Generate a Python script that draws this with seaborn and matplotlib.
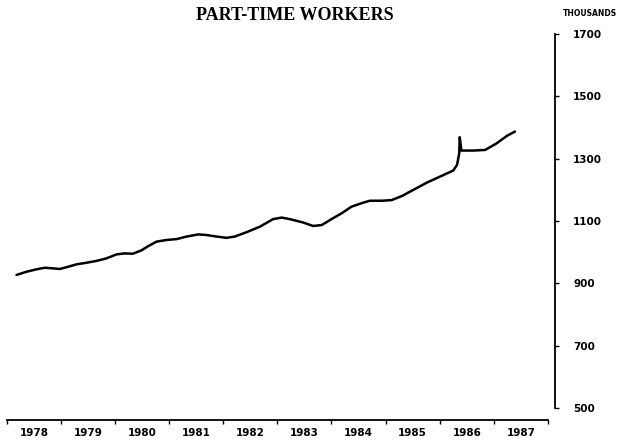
import numpy as np
import matplotlib
matplotlib.use("Agg")
import matplotlib.pyplot as plt
import seaborn as sns

sns.set_style("white")

# Part-time workers, thousands
years = [1978.18, 1978.36, 1978.55, 1978.70, 1978.86, 1978.98, 1979.13, 1979.29,
         1979.47, 1979.66, 1979.84, 1980.03, 1980.18, 1980.33, 1980.49, 1980.61,
         1980.77, 1980.95, 1981.14, 1981.32, 1981.54, 1981.69, 1981.88, 1982.06,
         1982.21, 1982.43, 1982.68, 1982.92, 1983.08, 1983.23, 1983.48, 1983.66,
         1983.82, 1984.00, 1984.19, 1984.37, 1984.59, 1984.71, 1984.93, 1985.11,
         1985.30, 1985.45, 1985.76, 1986.00, 1986.25, 1986.32, 1986.36, 1986.37,
         1986.40, 1986.62, 1986.84, 1987.05, 1987.24, 1987.39]
workers = [927, 937, 945, 950, 948, 946, 953, 961,
           966, 972, 980, 993, 996, 995, 1006, 1019,
           1034, 1039, 1042, 1050, 1057, 1055, 1050, 1046,
           1050, 1064, 1082, 1106, 1111, 1106, 1095, 1084,
           1087, 1106, 1125, 1146, 1159, 1165, 1165, 1167,
           1180, 1194, 1223, 1242, 1262, 1280, 1317, 1369,
           1326, 1326, 1328, 1349, 1373, 1387]

ytick_vals = [500, 700, 900, 1100, 1300, 1500, 1700]
year_labels = [str(y) for y in range(1978, 1988)]

W, H = 623, 446
fig = plt.figure(figsize=(W / 100, H / 100), dpi=100)
ax = fig.add_axes([3 / W, (H - 420) / H, (555 - 3) / W, (420 - 34) / H])

sns.lineplot(x=years, y=workers, color="black", linewidth=1.8, ax=ax, sort=False)

ax.set_xlim(1977.93, 1988.13)
ax.set_ylim(461.5, 1700)

for s in ["left", "top"]:
    ax.spines[s].set_visible(False)
ax.spines["right"].set_bounds(500, 1700)
ax.spines["bottom"].set_bounds(1978, 1988)
for s in ["right", "bottom"]:
    ax.spines[s].set_linewidth(1.3)
    ax.spines[s].set_color("black")

ax.yaxis.tick_right()
ax.set_yticks(ytick_vals)
ax.set_yticklabels([str(v) for v in ytick_vals], fontsize=7.5, fontweight="bold",
                   family="DejaVu Sans")
ax.tick_params(axis="y", right=True, direction="out", length=3, width=1, pad=10,
               colors="black")

ax.set_xticks(np.arange(1978, 1989))
ax.set_xticklabels([])
ax.set_xticks(np.arange(1978.5, 1988.5), minor=True)
ax.set_xticklabels(year_labels, minor=True, fontsize=7.5, fontweight="bold",
                   family="DejaVu Sans")
ax.tick_params(axis="x", which="major", bottom=True, direction="out", length=3,
               width=1, colors="black")
ax.tick_params(axis="x", which="minor", bottom=True, length=0, pad=6, colors="black")
ax.grid(False)

ax.set_xlabel("")
ax.set_ylabel("")

fig.text(295 / W, 1 - 16 / H, "PART-TIME WORKERS", ha="center", va="center",
         fontsize=13, fontweight="bold", family="Liberation Serif", color="black")
fig.text(590 / W, 1 - 14 / H, "THOUSANDS", ha="center", va="center",
         fontsize=5.5, fontweight="bold", family="DejaVu Sans", color="black")

fig.savefig("out.png", dpi=100)
